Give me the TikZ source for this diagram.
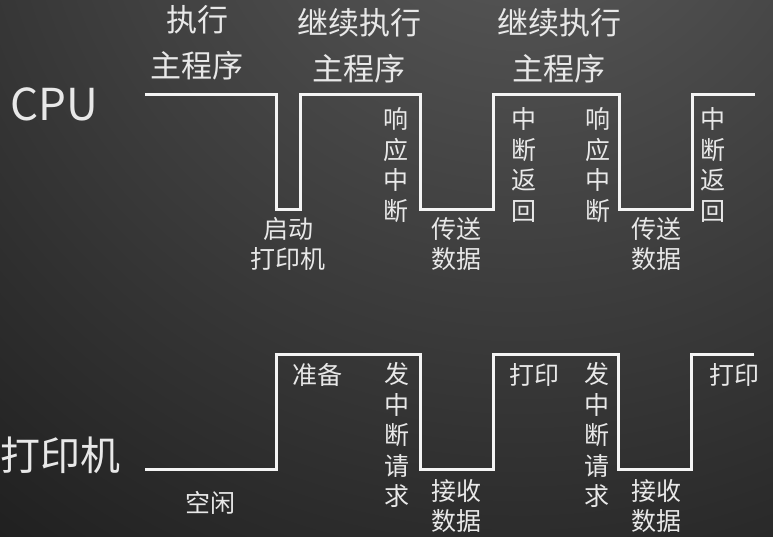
\documentclass[tikz,border=0pt]{standalone}
\usepackage{fontspec}
\setmainfont{Noto Sans CJK SC}
\definecolor{ink}{HTML}{E8E8E8}
\definecolor{wave}{HTML}{F4F4F4}
\definecolor{bgtop}{HTML}{5C5C5C}
\definecolor{bgbot}{HTML}{1E1E1E}
\begin{document}
\begin{tikzpicture}[x=1pt,y=-1pt,
  signal/.style={draw=wave,line width=3pt,line join=miter},
  biglabel/.style={text=ink,inner sep=0pt,font=\fontsize{40}{42}\selectfont},
  title/.style={text=ink,inner sep=0pt,align=center,font=\fontsize{31}{46}\selectfont},
  note/.style={text=ink,inner sep=0pt,align=center,font=\fontsize{25}{30.5}\selectfont}]
\useasboundingbox (0,0) rectangle (773,536);
% background
\begin{scope}
  \clip (0,0) rectangle (773,536);
  \fill[bgbot] (0,0) rectangle (773,536);
  \shade[inner color=bgtop,outer color=bgbot] (520,-160) circle (900);
\end{scope}

% CPU timeline
\draw[signal] (145,94) -- (276,94) -- (276,209) -- (300,209) -- (300,94)
  -- (420,94) -- (420,209) -- (493,209) -- (493,94)
  -- (619,94) -- (619,209) -- (692,209) -- (692,94) -- (755,94);

% printer timeline
\draw[signal] (145,469) -- (276,469) -- (276,354) -- (420,354) -- (420,469)
  -- (493,469) -- (493,354) -- (618,354) -- (618,469) -- (691,469)
  -- (691,354) -- (754,354);

% row labels
\node[biglabel,font=\fontsize{44}{46}\selectfont] (cpu) at (54,104) {CPU};
\node[biglabel,anchor=west] (prn) at (0.5,455) {打印机};

% CPU states
\node[title] (run1) at (197,43) {执行\\主程序};
\node[title] (run2) at (359,46) {继续执行\\主程序};
\node[title] (run3) at (559,46) {继续执行\\主程序};
\node[note] (start) at (288,244) {启动\\打印机};
\node[note] (ack1) at (396,165) {响\\应\\中\\断};
\node[note] (send1) at (456,244) {传送\\数据};
\node[note] (ret1) at (524,165) {中\\断\\返\\回};
\node[note] (ack2) at (598,165) {响\\应\\中\\断};
\node[note] (send2) at (656,244) {传送\\数据};
\node[note] (ret2) at (713,165) {中\\断\\返\\回};

% printer states
\node[note] (idle) at (210,503) {空闲};
\node[note] (prep) at (317,375) {准备};
\node[note] (irq1) at (397,435) {发\\中\\断\\请\\求};
\node[note] (recv1) at (456,506) {接收\\数据};
\node[note] (print1) at (534,375) {打印};
\node[note] (irq2) at (597,435) {发\\中\\断\\请\\求};
\node[note] (recv2) at (656,506) {接收\\数据};
\node[note] (print2) at (734,375) {打印};
\end{tikzpicture}
\end{document}
